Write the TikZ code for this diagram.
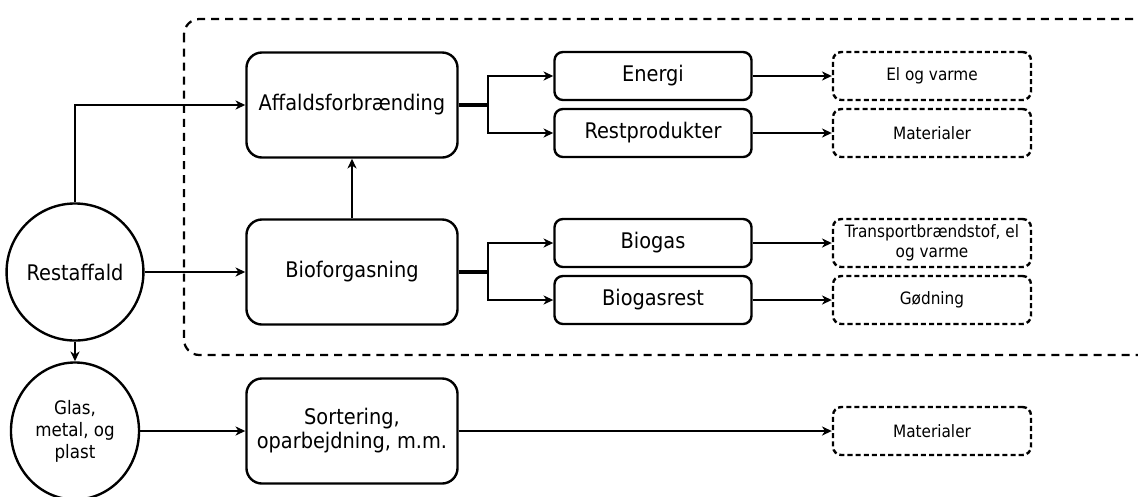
\documentclass[tikz,border=0pt]{standalone}
\usepackage{fontspec}
\setmainfont{DejaVu Sans Condensed}
\usepackage{tikz}
\usetikzlibrary{positioning,shapes,arrows,arrows.meta}
\usepackage{xcolor}
\tikzstyle{process}=[rectangle, draw=black, line width=1.7pt, rounded corners=11pt,
text centered, minimum width=5.275cm, minimum height=2.625cm, font=\fontsize{15.3}{17}\selectfont]
\tikzstyle{product}=[rectangle, draw=black, line width=1.7pt, rounded corners=6pt,
text centered, minimum width=4.925cm, minimum height=1.2cm, font=\fontsize{15.3}{17}\selectfont]
\tikzstyle{result}=[rectangle, draw=black, line width=1.7pt, rounded corners=6pt, dash pattern=on 3.6pt off 2.2pt,
text centered, align=center, minimum width=4.95cm, minimum height=1.2cm, inner sep=1pt, font=\fontsize{12.1}{14}\selectfont]
\tikzstyle{source}=[ellipse, draw=black, line width=1.7pt, align=center,
minimum width=3.2cm, minimum height=3.425cm, inner sep=0pt]
\tikzstyle{flow}=[->, line width=1.5pt]

\begin{document}
\begin{tikzpicture}[x=0.025cm, y=-0.025cm, >={Stealth[length=7pt,width=6.5pt,inset=2.2pt]}]
            \clip (0,0) rectangle (1138,496);
            \useasboundingbox (0,0) rectangle (1138,496);
            % dashed frame round the treatment
            \draw [line width=1.6pt, dash pattern=on 5.7pt off 4.3pt, rounded corners=11pt]
                (184,19) rectangle (1170,355);
            % sources
            \node (1)[source, font=\fontsize{15.3}{17}\selectfont] at (75,272) {Restaffald};
            \node (2)[source, font=\fontsize{13.2}{15.6}\selectfont] at (75,431) {Glas,\\metal, og\\plast};
            % treatment
            \node (3)[process] at (352,105) {Affaldsforbrænding};
            \node (4)[process] at (352,272) {Bioforgasning};
            \node (5)[process, align=center] at (352,431) {Sortering,\\oparbejdning, m.m.};
            \node (6)[product] at (653,76) {Energi};
            \node (7)[product] at (653,133) {Restprodukter};
            \node (8)[product] at (653,243) {Biogas};
            \node (9)[product] at (653,300) {Biogasrest};
            % end uses
            \node (10)[result] at (932,76) {El og varme};
            \node (11)[result] at (932,133) {Materialer};
            \node (12)[result, font=\fontsize{12.1}{14.2}\selectfont] at (932,243) {Transportbrændstof, el\\og varme};
            \node (13)[result] at (932,300) {Gødning};
            \node (14)[result] at (932,431) {Materialer};
            \coordinate (a) at (488,105);
            \coordinate (b) at (488,272);
            % connections
            \draw [flow] (1.north) |- (3.west);
            \draw [flow] (4.north) -- (3.south);
            \draw [flow] (1.east) -- (4.west);
            \draw [flow] (1.south) -- (2.north);
            \draw [flow] (2.east) -- (5.west);
            \draw [flow] (5.east) -- (14.west);
            \draw [line width=2.6pt] (3.east) -- (a);
            \draw [line width=2.6pt] (4.east) -- (b);
            \draw [flow] (a) |- (6.west);
            \draw [flow] (a) |- (7.west);
            \draw [flow] (b) |- (8.west);
            \draw [flow] (b) |- (9.west);
            \draw [flow] (6.east) -- (10.west);
            \draw [flow] (7.east) -- (11.west);
            \draw [flow] (8.east) -- (12.west);
            \draw [flow] (9.east) -- (13.west);
        \end{tikzpicture}
\end{document}
